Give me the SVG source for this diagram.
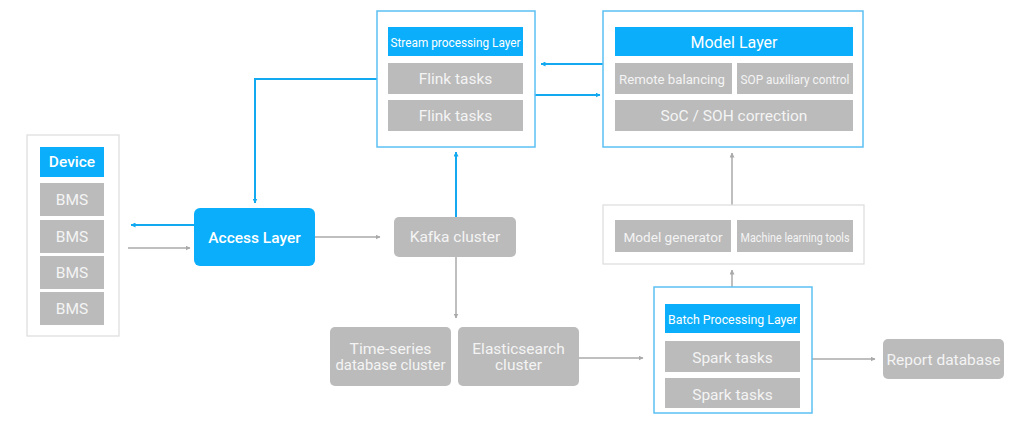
<svg xmlns="http://www.w3.org/2000/svg" width="1016" height="426" viewBox="0 0 1016 426">
<defs>
<marker id="ab" viewBox="0 0 10 10" refX="9" refY="5" markerWidth="5" markerHeight="5" orient="auto" markerUnits="userSpaceOnUse">
<path d="M0,0 L10,5 L0,10 z" fill="#12a9f0"/>
</marker>
<marker id="ag" viewBox="0 0 10 10" refX="9" refY="5" markerWidth="5" markerHeight="5" orient="auto" markerUnits="userSpaceOnUse">
<path d="M0,0 L10,5 L0,10 z" fill="#aaaaaa"/>
</marker>
</defs>
<style>
text{font-family:Roboto,"Liberation Sans",sans-serif;fill:#ffffff;text-anchor:middle;dominant-baseline:central}
.c{font-size:15.5px;fill:#f4f4f4}
.s{font-size:13px;fill:#f4f4f4}
.h{font-size:13.5px}
.b{fill:#0aaefa}
.g{fill:#bbbbbb}
.cb{fill:#ffffff;stroke:#5cc0f3;stroke-width:1.5}
.cg{fill:#ffffff;stroke:#dddddd;stroke-width:1.2}
.lb{fill:none;stroke:#12a9f0;stroke-width:2}
.lg{fill:none;stroke:#aaaaaa;stroke-width:1.5}
</style>
<rect width="1016" height="426" fill="#ffffff"/>
<g id="connectors">
<path class="lb" d="M377,79 H255 V203" marker-end="url(#ab)"/>
<path class="lb" d="M194,225 H131" marker-end="url(#ab)"/>
<path class="lg" d="M128,248 H190" marker-end="url(#ag)"/>
<path class="lg" d="M315,237 H380" marker-end="url(#ag)"/>
<path class="lb" d="M456,217 V152" marker-end="url(#ab)"/>
<path class="lg" d="M456,257 V318" marker-end="url(#ag)"/>
<path class="lb" d="M603,64 H541" marker-end="url(#ab)"/>
<path class="lb" d="M535,95 H600" marker-end="url(#ab)"/>
<path class="lg" d="M732,205 V153" marker-end="url(#ag)"/>
<path class="lg" d="M732,304 V270" marker-end="url(#ag)"/>
<path class="lg" d="M579,358 H643" marker-end="url(#ag)"/>
<path class="lg" d="M812,359 H875" marker-end="url(#ag)"/>
</g>
<g id="device">
<rect class="cg" x="27" y="135" width="92" height="201"/>
<rect class="b" x="40" y="147" width="64" height="30"/>
<text x="72" y="162" style="font-size:15.5px;font-weight:500">Device</text>
<rect class="g" x="40" y="183" width="64" height="33"/>
<text class="c" x="72" y="200">BMS</text>
<rect class="g" x="40" y="220" width="64" height="33"/>
<text class="c" x="72" y="237">BMS</text>
<rect class="g" x="40" y="256" width="64" height="33"/>
<text class="c" x="72" y="273">BMS</text>
<rect class="g" x="40" y="292" width="64" height="33"/>
<text class="c" x="72" y="309">BMS</text>
</g>
<g id="access-layer">
<rect class="b" x="194" y="208" width="121" height="58" rx="6"/>
<text x="254.5" y="238" style="font-size:15.5px;font-weight:500">Access Layer</text>
</g>
<g id="stream-layer">
<rect class="cb" x="377" y="11" width="158" height="136"/>
<rect class="b" x="388" y="27" width="135" height="29"/>
<text class="h" x="455.5" y="42" textLength="130" lengthAdjust="spacingAndGlyphs">Stream processing Layer</text>
<rect class="g" x="388" y="63" width="135" height="31"/>
<text class="c" x="455.5" y="79">Flink tasks</text>
<rect class="g" x="388" y="100" width="135" height="31"/>
<text class="c" x="455.5" y="116">Flink tasks</text>
</g>
<g id="model-layer">
<rect class="cb" x="603" y="11" width="260" height="136"/>
<rect class="b" x="615" y="27" width="238" height="29"/>
<text x="734" y="42" style="font-size:16px">Model Layer</text>
<rect class="g" x="615" y="63" width="117" height="31"/>
<text class="s" x="672" y="79" textLength="106" lengthAdjust="spacingAndGlyphs">Remote balancing</text>
<rect class="g" x="737" y="63" width="116" height="31"/>
<text x="795" y="79" textLength="109" lengthAdjust="spacingAndGlyphs" style="font-size:13px;fill:#f4f4f4">SOP auxiliary control</text>
<rect class="g" x="615" y="100" width="238" height="31"/>
<text class="c" x="734" y="116">SoC / SOH correction</text>
</g>
<g id="kafka">
<rect class="g" x="394" y="217" width="122" height="40" rx="5"/>
<text class="c" x="455" y="237">Kafka cluster</text>
</g>
<g id="model-generation">
<rect class="cg" x="603" y="205" width="261" height="59"/>
<rect class="g" x="615" y="220" width="116" height="32"/>
<text class="s" x="673" y="237" textLength="99" lengthAdjust="spacingAndGlyphs">Model generator</text>
<rect class="g" x="737" y="220" width="116" height="32"/>
<text x="795" y="237" textLength="109" lengthAdjust="spacingAndGlyphs" style="font-size:13px;fill:#f4f4f4">Machine learning tools</text>
</g>
<g id="timeseries">
<rect class="g" x="330" y="327" width="121" height="59" rx="5"/>
<text class="c" x="390.5" y="349" textLength="82" lengthAdjust="spacingAndGlyphs">Time-series</text>
<text class="c" x="390.5" y="365" textLength="110" lengthAdjust="spacingAndGlyphs">database cluster</text>
</g>
<g id="elasticsearch">
<rect class="g" x="458" y="327" width="121" height="59" rx="5"/>
<text class="c" x="518.5" y="349">Elasticsearch</text>
<text class="c" x="518.5" y="365">cluster</text>
</g>
<g id="batch-layer">
<rect class="cb" x="654" y="287" width="158" height="126"/>
<rect class="b" x="665" y="304" width="135" height="29"/>
<text class="h" x="732.5" y="319" textLength="129" lengthAdjust="spacingAndGlyphs">Batch Processing Layer</text>
<rect class="g" x="665" y="341" width="135" height="31"/>
<text class="c" x="732.5" y="358">Spark tasks</text>
<rect class="g" x="665" y="378" width="135" height="30"/>
<text class="c" x="732.5" y="395">Spark tasks</text>
</g>
<g id="report-db">
<rect class="g" x="883" y="339" width="121" height="40" rx="5"/>
<text class="c" x="943.5" y="360">Report database</text>
</g>
</svg>
